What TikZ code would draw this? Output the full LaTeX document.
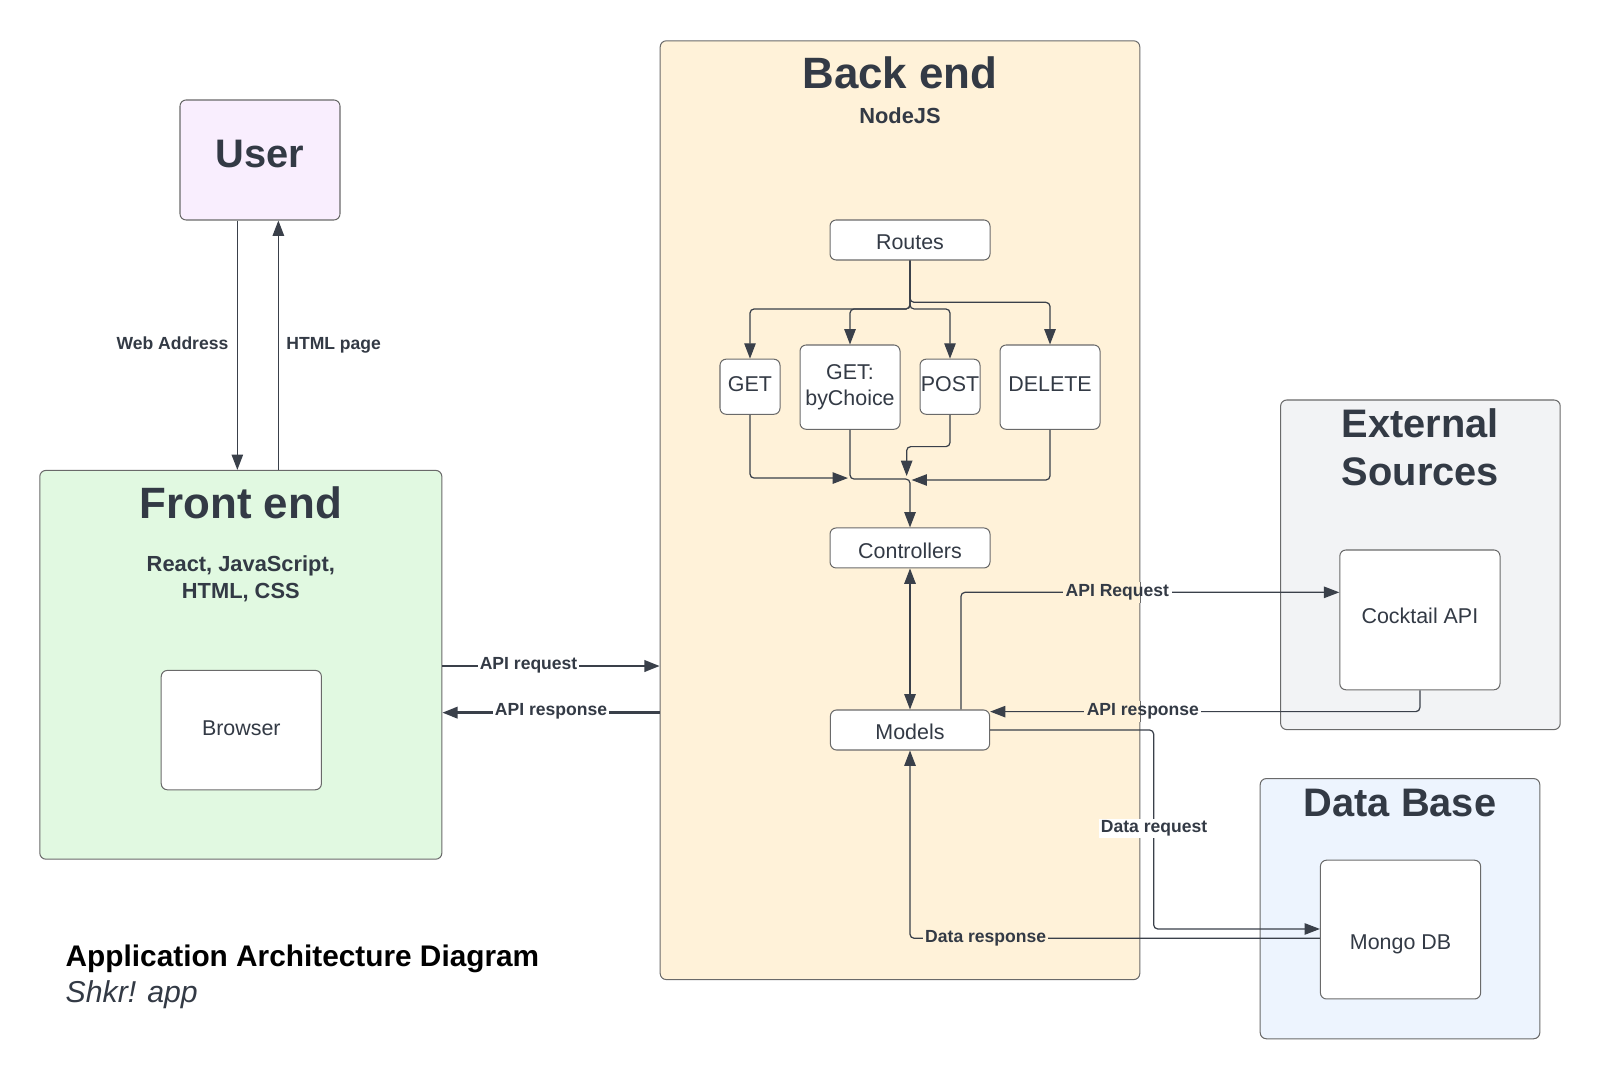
\documentclass[tikz,border=0pt]{standalone}
\usepackage{fontspec}
\setmainfont{Liberation Sans}
\usetikzlibrary{arrows.meta,calc}
\definecolor{ink}{HTML}{333A45}
\definecolor{edgec}{HTML}{3A404A}
\definecolor{bord}{HTML}{6A6A6A}
\definecolor{userbg}{HTML}{F9EEFE}
\definecolor{febg}{HTML}{E1F9E1}
\definecolor{bebg}{HTML}{FFF2D9}
\definecolor{extbg}{HTML}{F2F3F5}
\definecolor{dbbg}{HTML}{EDF4FE}
\begin{document}
\begin{tikzpicture}[x=0.5pt,y=-0.5pt,
  box/.style={draw=bord, line width=0.5pt, rounded corners=3pt, inner sep=0pt},
  wbox/.style={box, fill=white, font=\fontsize{10.5}{13}\selectfont, text=ink, align=center},
  bigttl/.style={font=\fontsize{21.5}{25}\selectfont\bfseries, text=ink, inner sep=0pt, align=center},
  midttl/.style={font=\fontsize{19.5}{23.5}\selectfont\bfseries, text=ink, inner sep=0pt, align=center},
  subttl/.style={font=\fontsize{10.7}{13}\selectfont\bfseries, text=ink, inner sep=0pt, align=center},
  conn/.style={draw=edgec, line width=0.6pt, rounded corners=2pt},
  thickconn/.style={draw=edgec, line width=1.2pt},
  arr/.style={-{Triangle[length=7.5pt,width=5.6pt]}},
  arrboth/.style={{Triangle[length=7.5pt,width=5.6pt]}-{Triangle[length=7.5pt,width=5.6pt]}},
  lab/.style={font=\fontsize{8.6}{10}\selectfont\bfseries, text=ink, inner sep=1pt},
  sidelab/.style={font=\fontsize{8.6}{10}\selectfont\bfseries, text=ink, inner sep=0pt}
]
\useasboundingbox[fill=white] (0,0) rectangle (1568,1057.4);

% containers
\node[box, fill=userbg, minimum width=78.4pt, minimum height=58.8pt] (user) at (254.8,156.8) {};
\node[midttl] (usert) at (254.8,151) {User};
\node[box, fill=febg, minimum width=197pt, minimum height=190.5pt] (fe) at (236,651.5) {};
\node[bigttl] (fet) at (236,493) {Front end};
\node[subttl] (fes) at (236,567) {React, JavaScript,\\HTML, CSS};
\node[box, fill=bebg, minimum width=235pt, minimum height=460pt] (be) at (882,500) {};
\node[bigttl] (bet) at (882,71) {Back end};
\node[subttl] (bes) at (882,113) {NodeJS};
\node[box, fill=extbg, minimum width=137pt, minimum height=161.5pt] (ext) at (1392,553.5) {};
\node[midttl] (extt) at (1392,438.5) {External\\Sources};
\node[box, fill=dbbg, minimum width=137pt, minimum height=127.5pt] (db) at (1372,890.5) {};
\node[midttl] (dbt) at (1372,787) {Data Base};

% inner boxes
\node[wbox, minimum width=78.5pt, minimum height=58.5pt, text height=7.6pt, text depth=2pt] (browser) at (236.5,715.5) {Browser};
\node[wbox, minimum width=78.4pt, minimum height=19.6pt, text height=9.5pt, text depth=0pt] (routes) at (891.8,235.2) {Routes};
\node[wbox, minimum width=29.4pt, minimum height=27pt, text height=7.5pt, text depth=3pt] (get) at (735,379) {GET};
\node[wbox, minimum width=49pt, minimum height=41.3pt] (gbc) at (833,379.4) {GET:\\byChoice};
\node[wbox, minimum width=29.4pt, minimum height=27pt, text height=7.5pt, text depth=3pt] (post) at (931,379) {POST};
\node[wbox, minimum width=49pt, minimum height=41.3pt, text height=7.5pt, text depth=3pt] (del) at (1029,379.4) {DELETE};
\node[wbox, minimum width=78.4pt, minimum height=19.6pt, text height=10.5pt, text depth=0pt] (ctrl) at (891.8,537) {Controllers};
\node[wbox, minimum width=78pt, minimum height=19.6pt, text height=9.5pt, text depth=0pt] (models) at (891.8,715.4) {Models};
\node[wbox, minimum width=78.5pt, minimum height=68.5pt, text height=7.6pt, text depth=4pt] (cocktail) at (1391.5,607.5) {Cocktail API};
\node[wbox, minimum width=78.5pt, minimum height=68pt, text height=21.6pt, text depth=2.2pt] (mongo) at (1372.5,911) {Mongo DB};

% user <-> front end
\coordinate (wa) at (232.6,300);
\coordinate (hp) at (272.8,300);
\draw[conn, arr] (user.south -| wa) -- (fe.north -| wa);
\draw[conn, arr] (fe.north -| hp) -- (user.south -| hp);
\node[sidelab] (wal) at (169,336) {Web Address};
\node[sidelab] (hpl) at (327,338) {HTML page};

% routes fan-out
\coordinate (jA) at (891.8,302.8);
\coordinate (jB) at (891.8,296.3);
\draw[conn, arr] (routes.south) -- (jA) -| (get.north);
\draw[conn, arr] (routes.south) -- (jA) -| (gbc.north);
\draw[conn, arr] (routes.south) -- (jA) -| (post.north);
\draw[conn, arr] (routes.south) -- (jB) -| (del.north);

% merge into controllers
\coordinate (mL) at (831,468.5);
\coordinate (mC) at (891.8,469.5);
\coordinate (pk) at (888.5,437.7);
\coordinate (mT) at (888.5,466.5);
\coordinate (mR) at (893.4,470.4);
\draw[conn, arr] (get.south) |- (mL);
\draw[conn, arr] (gbc.south) |- (mC) -- (ctrl.north);
\draw[conn, arr] (post.south) |- (pk) -- (mT);
\draw[conn, arr] (del.south) |- (mR);

% controllers <-> models
\draw[conn, arrboth] (ctrl.south) -- (models.north);

% front end <-> back end
\coordinate (fa) at (540,652.7);
\coordinate (fb) at (540,698.4);
\draw[thickconn, arr] (fe.east |- fa) -- (be.west |- fa);
\draw[thickconn, arr] (be.west |- fb) -- (fe.east |- fb);
\node[lab, fill=white] (l1) at (518,651.5) {API request};
\node[lab, fill=white] (l2) at (540,697.4) {API response};

% models <-> cocktail api
\coordinate (arq) at (941.7,580.5);
\coordinate (ars) at (1391.5,697.4);
\draw[conn, arr] (models.north -| arq) -- (arq) -- (arq -| cocktail.west);
\draw[conn, arr] (cocktail.south) -- (ars) -- (ars -| models.east);

% models <-> mongo
\coordinate (drq) at (1130.6,910.4);
\coordinate (drs) at (891.8,919.5);
\draw[conn, arr] (models.east) -| (drq) -- (drq -| mongo.west);
\draw[conn, arr] (drs -| mongo.west) -- (drs) -- (models.south);
\node[lab, fill=white] (l5) at (1131,812) {Data request};
\node[lab, fill=bebg] (l6) at (966,920) {Data response};

% labels straddling the back end border
\node[lab] (l3p) at (1095,580.5) {\phantom{API Request}};
\fill[bebg] (l3p.north west) rectangle (l3p.south west -| be.east);
\fill[white] (l3p.north east) rectangle (l3p.south east -| be.east);
\draw[draw=bord, line width=0.5pt] (l3p.north -| be.east) -- (l3p.south -| be.east);
\node[lab] (l3) at (l3p) {API Request};
\node[lab] (l4p) at (1120,697.4) {\phantom{API response}};
\fill[bebg] (l4p.north west) rectangle (l4p.south west -| be.east);
\fill[white] (l4p.north east) rectangle (l4p.south east -| be.east);
\draw[draw=bord, line width=0.5pt] (l4p.north -| be.east) -- (l4p.south -| be.east);
\node[lab] (l4) at (l4p) {API response};

% caption
\node[anchor=west, inner sep=0pt, font=\fontsize{14.6}{17}\selectfont\bfseries, text=black] (cap1) at (64,940) {Application Architecture Diagram};
\node[anchor=west, inner sep=0pt, font=\fontsize{14.8}{17}\selectfont\itshape, text=ink] (cap2) at (64,975) {Shkr! app};
\end{tikzpicture}
\end{document}
